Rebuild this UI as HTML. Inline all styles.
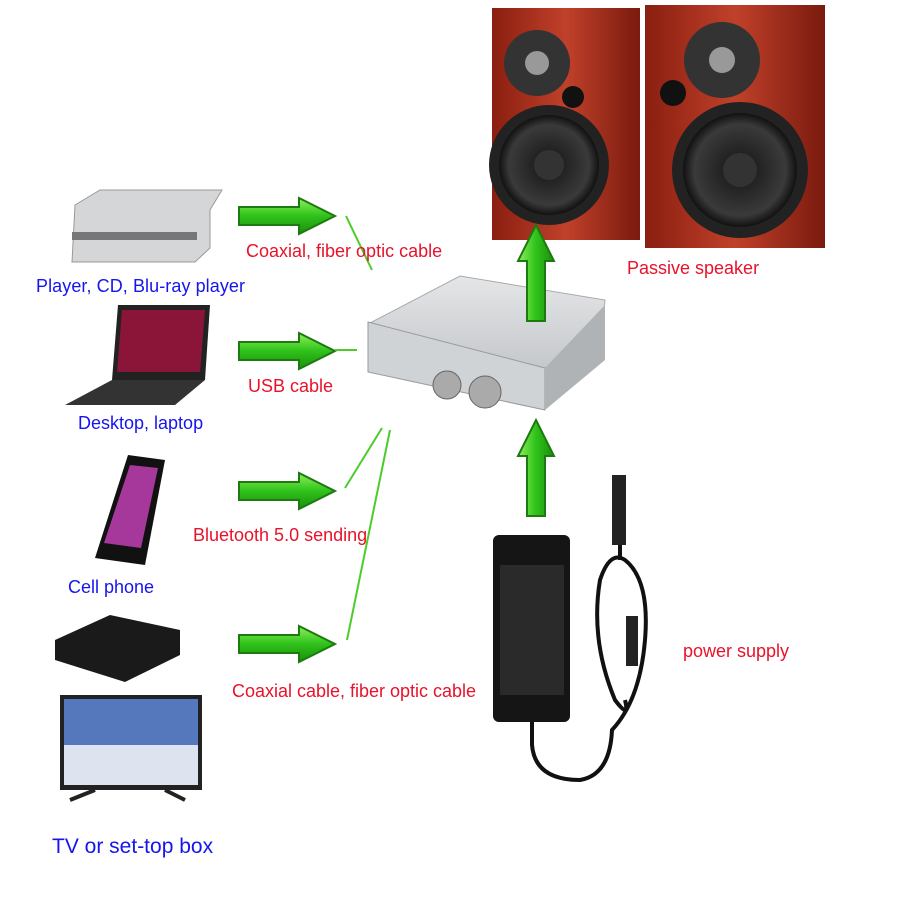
<!DOCTYPE html><html><head><style>body{margin:0;background:#fff}</style></head><body>
<svg width="900" height="900" viewBox="0 0 900 900" xmlns="http://www.w3.org/2000/svg" font-family="Liberation Sans, sans-serif">
<defs>
<linearGradient id="g" x1="0" y1="0" x2="0" y2="1"><stop offset="0" stop-color="#8ef05a"/><stop offset=".5" stop-color="#2fc21a"/><stop offset="1" stop-color="#1a8f0c"/></linearGradient>
<linearGradient id="gv" x1="0" y1="0" x2="1" y2="0"><stop offset="0" stop-color="#8ef05a"/><stop offset=".5" stop-color="#2fc21a"/><stop offset="1" stop-color="#1a8f0c"/></linearGradient>
<linearGradient id="wood" x1="0" y1="0" x2="1" y2="0"><stop offset="0" stop-color="#8a1e10"/><stop offset=".5" stop-color="#c0412a"/><stop offset="1" stop-color="#7a1a0e"/></linearGradient>
<radialGradient id="cone"><stop offset="0" stop-color="#555"/><stop offset=".3" stop-color="#222"/><stop offset=".8" stop-color="#3a3a3a"/><stop offset="1" stop-color="#111"/></radialGradient>
<linearGradient id="al" x1="0" y1="0" x2="0" y2="1"><stop offset="0" stop-color="#e4e6e8"/><stop offset="1" stop-color="#b9bcbf"/></linearGradient>
<symbol id="ah" viewBox="0 0 100 40"><path d="M2 11H62V2L98 20L62 38V29H2Z" fill="url(#g)" stroke="#1d7a10" stroke-width="2"/></symbol>
<symbol id="av" viewBox="0 0 40 100"><path d="M11 98V38H2L20 2L38 38H29V98Z" fill="url(#gv)" stroke="#1d7a10" stroke-width="2"/></symbol>
</defs>
<!-- speakers -->
<rect x="492" y="8" width="148" height="232" fill="url(#wood)"/>
<rect x="645" y="5" width="180" height="243" fill="url(#wood)"/>
<circle cx="537" cy="63" r="33" fill="#333"/><circle cx="537" cy="63" r="12" fill="#999"/><circle cx="573" cy="97" r="11" fill="#111"/>
<circle cx="549" cy="165" r="60" fill="#222"/><circle cx="549" cy="165" r="50" fill="url(#cone)"/><circle cx="549" cy="165" r="15" fill="#333"/>
<circle cx="722" cy="60" r="38" fill="#333"/><circle cx="722" cy="60" r="13" fill="#999"/><circle cx="673" cy="93" r="13" fill="#111"/>
<circle cx="740" cy="170" r="68" fill="#222"/><circle cx="740" cy="170" r="57" fill="url(#cone)"/><circle cx="740" cy="170" r="17" fill="#333"/>
<!-- amp -->
<path d="M370 323L460 276L605 300L600 360L545 405Z" fill="url(#al)" stroke="#aaa"/>
<path d="M368 322L545 368L545 410L368 372Z" fill="#d0d3d6" stroke="#999"/>
<path d="M545 368L605 305V360L545 410Z" fill="#b0b3b6"/>
<circle cx="447" cy="385" r="14" fill="#aaa" stroke="#666"/><circle cx="485" cy="392" r="16" fill="#aaa" stroke="#666"/>
<!-- arrows -->
<use href="#ah" x="237" y="196" width="100" height="40"/>
<use href="#ah" x="237" y="331" width="100" height="40"/>
<use href="#ah" x="237" y="471" width="100" height="40"/>
<use href="#ah" x="237" y="624" width="100" height="40"/>
<use href="#av" x="516" y="223" width="40" height="100"/>
<use href="#av" x="516" y="418" width="40" height="100"/>
<g stroke="#4ccc2a" stroke-width="2"><line x1="346" y1="216" x2="372" y2="270"/><line x1="335" y1="350" x2="357" y2="350"/><line x1="345" y1="488" x2="382" y2="428"/><line x1="390" y1="430" x2="347" y2="640"/></g>
<!-- power supply -->
<rect x="493" y="535" width="77" height="187" rx="6" fill="#151515"/>
<rect x="500" y="565" width="64" height="130" fill="#2a2a2a"/>
<path d="M532 722V745Q535 780 580 780Q610 775 612 730Q640 700 645 640Q650 580 625 560Q610 550 600 580Q590 640 615 700Q630 720 625 700M620 560V490" fill="none" stroke="#111" stroke-width="4"/>
<rect x="612" y="475" width="14" height="70" fill="#222"/><rect x="626" y="616" width="12" height="50" fill="#222"/>
<!-- devices -->
<path d="M75 205L100 190H222L210 210V248L195 262H72Z" fill="#d4d6d8" stroke="#999"/><rect x="72" y="232" width="125" height="8" fill="#777"/>
<path d="M118 305H210L205 380H112Z" fill="#222"/><path d="M122 310H205L200 372H117Z" fill="#8a1538"/><path d="M112 380H205L175 405H65Z" fill="#333"/>
<path d="M128 455L165 460L145 565L95 558Z" fill="#111"/><path d="M130 465L158 468L141 548L104 543Z" fill="#a6389c"/>
<path d="M55 640L110 615L180 630V655L125 682L55 660Z" fill="#1a1a1a"/>
<rect x="60" y="695" width="142" height="95" fill="#222"/><rect x="64" y="699" width="134" height="86" fill="#5577bb"/><rect x="64" y="745" width="134" height="40" fill="#dde3ef"/><path d="M70 800L95 790M185 800L165 790" stroke="#222" stroke-width="4"/>
<!-- text -->
<g font-size="18" fill="#1515ee">
<text x="36" y="292" textLength="209">Player, CD, Blu-ray player</text>
<text x="78" y="429">Desktop, laptop</text>
<text x="68" y="593">Cell phone</text>
<text x="52" y="853" font-size="21">TV or set-top box</text></g>
<g font-size="18" fill="#e8122a">
<text x="246" y="257">Coaxial, fiber optic cable</text>
<text x="248" y="392">USB cable</text>
<text x="193" y="541">Bluetooth 5.0 sending</text>
<text x="232" y="697" textLength="244">Coaxial cable, fiber optic cable</text>
<text x="627" y="274">Passive speaker</text>
<text x="683" y="657">power supply</text></g>
</svg></body></html>
